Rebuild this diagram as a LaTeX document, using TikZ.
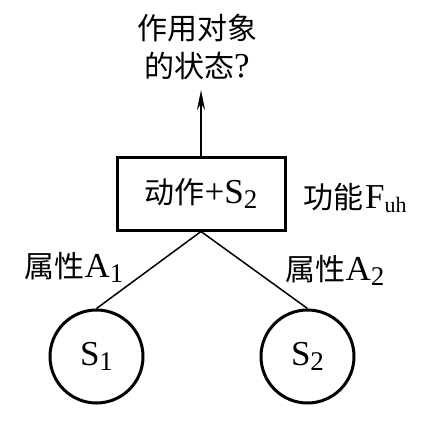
\documentclass[tikz,border=0pt]{standalone}
\usepackage{fontspec}
\setmainfont{Liberation Serif}
\newfontfamily\cjk{Noto Sans CJK SC}
\usetikzlibrary{arrows.meta}
\newcommand\mysub[1]{\raisebox{-0.3ex}{\fontsize{27}{27}\selectfont #1}}
\newcommand\zh[1]{{\fontsize{30}{38}\selectfont\cjk #1}}
\tikzset{
  txt/.style={inner sep=0pt, font=\fontsize{35}{38}\selectfont},
  fbox/.style={draw, line width=3pt, minimum width=168pt, minimum height=73pt, inner sep=0pt, font=\fontsize{35}{38}\selectfont},
  obj/.style={draw, circle, line width=3pt, minimum size=93pt, inner sep=0pt, font=\fontsize{35}{38}\selectfont},
  link/.style={line width=1.5pt}
}
\begin{document}
\begin{tikzpicture}[x=1pt,y=-1pt]
\useasboundingbox (0,0) rectangle (427,439);
\node[txt, align=center] (q) at (197,47) {\zh{作用对象}\\\zh{的状态}?};
\node[fbox] (b) at (201,193.5) {\zh{动作}+S\mysub{2}};
\node[txt, anchor=west] (f) at (303,198) {\zh{功能}\kern2pt F\raisebox{-0.2ex}{\fontsize{22}{22}\selectfont uh}};
\coordinate (t) at (201,90);
\draw[line width=2pt, -{Stealth[length=20pt,width=8pt]}] (b.north) -- (t);
\node[obj] (s1) at (96.5,356.5) {S\mysub{1}};
\node[obj] (s2) at (307.5,356.5) {S\mysub{2}};
\draw[link] (b.south) -- (s1.north);
\draw[link] (b.south) -- (s2.north);
\node[txt] (a1) at (74,267) {\zh{属性}A\mysub{1}};
\node[txt] (a2) at (335,270) {\zh{属性}A\mysub{2}};
\end{tikzpicture}
\end{document}
